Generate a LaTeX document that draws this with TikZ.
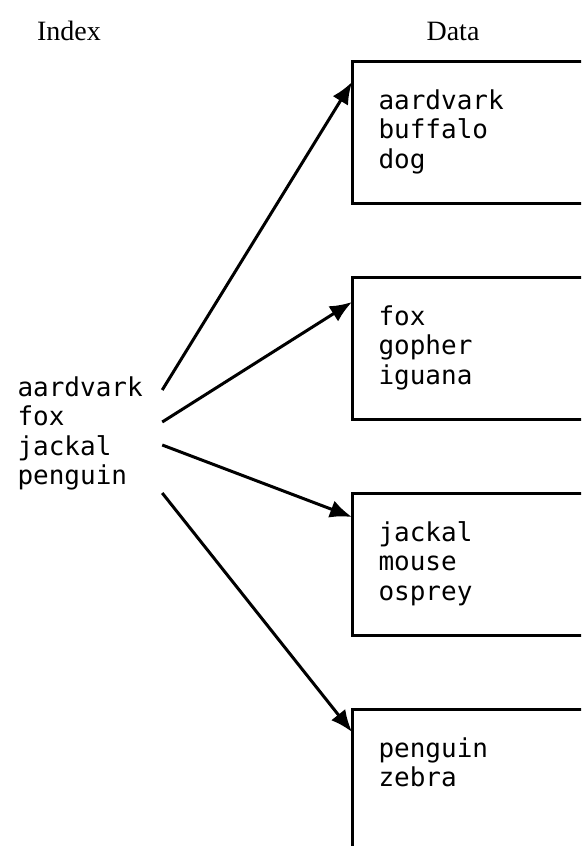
\documentclass[tikz,border=0pt]{standalone}
\usepackage{fontspec}
\setmainfont{Liberation Serif}
\setmonofont{DejaVu Sans Mono}
\usetikzlibrary{arrows.meta}
\begin{document}
\begin{tikzpicture}[x=1pt, y=-1pt,
                    line width=3pt,
                    ]
    \tikzstyle{title}=[font=\fontsize{28}{32}\selectfont, anchor=base]
    \tikzstyle{keys}=[font=\ttfamily\fontsize{26}{29.5}\selectfont, align=left, inner sep=0pt, anchor=north west]
    \tikzstyle{index}=[keys, inner xsep=18pt]
    \tikzstyle{block}=[draw, rectangle, minimum width=260pt, minimum height=142pt, anchor=north west, inner sep=0pt, outer sep=0pt]
    \tikzstyle{pointer}=[-{Latex[length=22pt,width=18pt]}]

    \clip (0,0) rectangle (581,846);

    \node[title] (hidx) at (69,40) {Index};
    \node[title] (hdata) at (453,40) {Data};

    \node[index] (idx) at (-2,375) {aardvark\\fox\\jackal\\penguin};

    \node[block] (d1) at (352,61) {};
    \node[block] (d2) at (352,277) {};
    \node[block] (d3) at (352,493) {};
    \node[block] (d4) at (352,709) {};

    \node[keys] (k1) at ([shift={(25,27)}]d1.north west) {aardvark\\buffalo\\dog};
    \node[keys] (k2) at ([shift={(25,27)}]d2.north west) {fox\\gopher\\iguana};
    \node[keys] (k3) at ([shift={(25,27)}]d3.north west) {jackal\\mouse\\osprey};
    \node[keys] (k4) at ([shift={(25,27)}]d4.north west) {penguin\\zebra};

    \draw[pointer] ([yshift=-15pt]idx.north east) -- ([yshift=-21pt]d1.north west);
    \draw[pointer] ([yshift=-47pt]idx.north east) -- ([yshift=-25pt]d2.north west);
    \draw[pointer] ([yshift=-70pt]idx.north east) -- ([yshift=-24pt]d3.north west);
    \draw[pointer] ([yshift=-118pt]idx.north east) -- ([yshift=-23pt]d4.north west);
\end{tikzpicture}
\end{document}
